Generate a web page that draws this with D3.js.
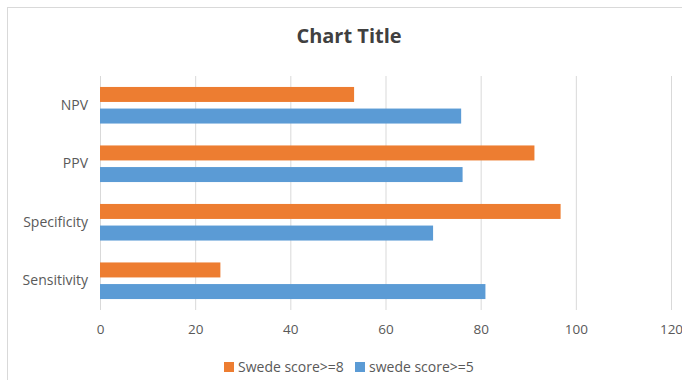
<!DOCTYPE html>
<html><head><meta charset="utf-8">
<script src="https://cdn.jsdelivr.net/npm/d3@7"></script>
<style>body{margin:0;background:#fff;}svg{display:block;font-family:"Open Sans",sans-serif;}</style>
</head><body>
<svg id="c" width="682" height="380"></svg>
<script>
const categories = ["NPV", "PPV", "Specificity", "Sensitivity"];
const seriesNames = ["Swede score>=8", "swede score>=5"];
const swede8 = [53.4, 91.3, 96.8, 25.3];
const swede5 = [75.9, 76.2, 70.0, 81.0];
const xTicks = [0, 20, 40, 60, 80, 100, 120];
const colors = ["#ED7D31", "#5B9BD5"];

(function () {
const svg = d3.select("#c");
svg.append("rect").attr("x", 7.5).attr("y", 7.5).attr("width", 700).attr("height", 400)
  .attr("fill", "#fff").attr("stroke", "#d9d9d9").attr("stroke-width", 1);

const pLeft = 100, pRight = 671, pTop = 76, pBottom = 310;
const x = d3.scaleLinear().domain([0, 120]).range([pLeft, pRight]);
const y = d3.scaleBand().domain(categories).range([pTop, pBottom]).padding(0);
const y1 = d3.scaleBand().domain(seriesNames).range([0, y.bandwidth()]).paddingInner(0.306).paddingOuter(0.507);

// gridlines
svg.append("g").selectAll("line").data(xTicks).join("line")
  .attr("x1", d => x(d) + 0.5).attr("x2", d => x(d) + 0.5)
  .attr("y1", pTop).attr("y2", pBottom)
  .attr("stroke", "#d9d9d9").attr("stroke-width", 1);

// axis labels
const xAxis = d3.axisBottom(x).tickValues(xTicks).tickSize(0).tickPadding(14);
const gx = svg.append("g").attr("transform", `translate(0,${pBottom})`).call(xAxis);
gx.select(".domain").remove();
gx.selectAll("text").attr("fill", "#595959").style("font-size", "13.5px").style("font-family", "'Open Sans',sans-serif");

const yAxis = d3.axisLeft(y).tickSize(0).tickPadding(12);
const gy = svg.append("g").attr("transform", `translate(${pLeft},0)`).call(yAxis);
gy.select(".domain").remove();
gy.selectAll("text").attr("fill", "#595959").style("font-size", "14px").style("font-family", "'Open Sans',sans-serif");

const series = [swede8, swede5];
series.forEach((vals, si) => {
  svg.append("g").selectAll("rect").data(vals).join("rect")
    .attr("x", x(0))
    .attr("y", (d, i) => y(categories[i]) + y1(seriesNames[si]))
    .attr("width", d => x(d) - x(0))
    .attr("height", y1.bandwidth())
    .attr("fill", colors[si]);
});

// title
svg.append("text").attr("x", 349).attr("y", 43).attr("text-anchor", "middle")
  .attr("fill", "#404040").style("font-size", "20px").style("font-weight", "bold")
  .text("Chart Title");

// legend
const legendItems = [{name: seriesNames[0], x: 224}, {name: seriesNames[1], x: 355}];
const lg = svg.append("g");
legendItems.forEach((it, i) => {
  lg.append("rect").attr("x", it.x).attr("y", 362).attr("width", 10).attr("height", 10).attr("fill", colors[i]);
  lg.append("text").attr("x", it.x + 14).attr("y", 372).attr("fill", "#595959")
    .style("font-size", "14px").text(it.name);
});
})();
</script>
</body></html>
